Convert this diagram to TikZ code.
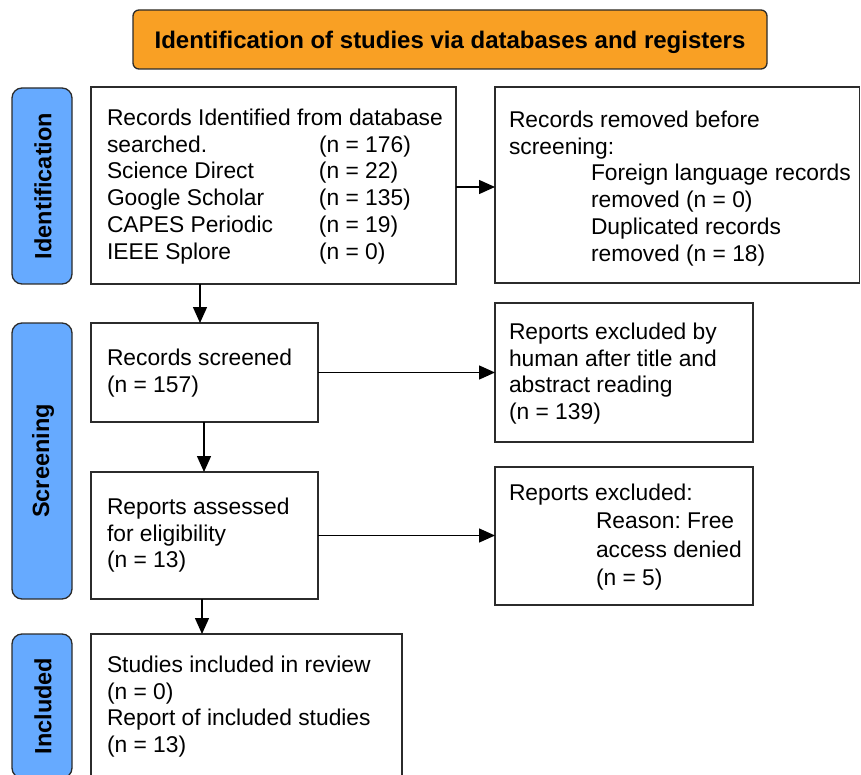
\documentclass[tikz,border=0pt]{standalone}
\usepackage{fontspec}
\setmainfont{Liberation Sans}
\usetikzlibrary{arrows.meta}
\definecolor{orangeT}{HTML}{F9A024}
\definecolor{blueL}{HTML}{66AAFF}
\definecolor{edge}{HTML}{2B2B2B}
\begin{document}
\frenchspacing
\begin{tikzpicture}[x=1pt,y=-1pt,
 box/.style={draw=edge,line width=1.3pt,fill=white,rectangle,anchor=north west,inner sep=0,outer sep=0},
 lab/.style={draw=edge,line width=1.3pt,fill=blueL,rounded corners=10pt,anchor=north west,inner sep=0,outer sep=0,minimum width=60pt},
 txt/.style={anchor=north west,inner sep=0,outer sep=0,align=left,font=\fontsize{22.8}{26.7}\selectfont},
 vtxt/.style={rotate=90,font=\bfseries\fontsize{23.5}{28}\selectfont,inner sep=0},
 arr/.style={line width=1.4pt,-{Triangle[length=16pt,width=14pt]}}]
\useasboundingbox (0,0) rectangle (861,775);
% title
\node[draw=edge,line width=1.3pt,fill=orangeT,rounded corners=6pt,minimum width=634pt,minimum height=59pt,inner sep=0,text depth=0pt,font=\bfseries\fontsize{24}{28}\selectfont] (title) at (450,39.5) {Identification of studies via databases and registers};
% phase labels
\node[lab,minimum height=196pt] (lid) at (12,88) {};
\node[vtxt] (lidt) at ([xshift=1pt]lid.center) {Identification};
\node[lab,minimum height=276pt] (lsc) at (12,323) {};
\node[vtxt] (lsct) at ([xshift=1pt]lsc.center) {Screening};
\node[lab,minimum height=144pt] (lin) at (12,634) {};
\node[vtxt] (lint) at ([xshift=1pt]lin.center) {Included};
% boxes
\node[box,minimum width=365pt,minimum height=197pt] (b1) at (91,87) {};
\node[box,minimum width=227pt,minimum height=99pt] (b2) at (91,323) {};
\node[box,minimum width=227pt,minimum height=127pt] (b3) at (91,472) {};
\node[box,minimum width=311pt,minimum height=144pt] (b4) at (91,634) {};
\node[box,minimum width=364.5pt,minimum height=196pt] (r1) at (495,87) {};
\node[box,minimum width=258pt,minimum height=139pt] (r2) at (495,303) {};
\node[box,minimum width=258pt,minimum height=138pt] (r3) at (495,467) {};
% texts
\node[txt] (t1) at (107,109) {Records Identified from database\\
\makebox[212pt][l]{searched.}(n = 176)\\
\makebox[212pt][l]{Science Direct}(n = 22)\\
\makebox[212pt][l]{Google Scholar}(n = 135)\\
\makebox[212pt][l]{CAPES Periodic}(n = 19)\\
\makebox[212pt][l]{IEEE Splore}(n = 0)};
\node[txt] (tr1) at (509,111) {Records removed before\\
screening:\\
\hspace*{82pt}Foreign language records\\
\hspace*{82pt}removed (n = 0)\\
\hspace*{82pt}Duplicated records\\
\hspace*{82pt}removed (n = 18)};
\node[txt] (t2) at (107,349) {Records screened\\ (n = 157)};
\node[txt] (t3) at (107,498) {Reports assessed\\ for eligibility\\ (n = 13)};
\node[txt] (t4) at (107,656) {Studies included in review\\ (n = 0)\\ Report of included studies\\ (n = 13)};
\node[txt] (tr2) at (509,323) {Reports excluded by\\ human after title and\\ abstract reading\\ (n = 139)};
\node[txt,font=\fontsize{22.8}{28.3}\selectfont] (tr3) at (509,484) {Reports excluded:\\
\hspace*{87pt}Reason: Free\\
\hspace*{87pt}access denied\\
\hspace*{87pt}(n = 5)};
% arrows
\draw[arr] ([xshift=109pt]b1.south west) -- ([xshift=109pt]b2.north west);
\draw[arr] ([xshift=113pt]b2.south west) -- ([xshift=113pt]b3.north west);
\draw[arr] ([xshift=111pt]b3.south west) -- ([xshift=111pt]b4.north west);
\draw[arr] ([yshift=-1.5pt]b1.east) -- ([yshift=-1.5pt]b1.east -| r1.west);
\draw[arr] (b2.east) -- (b2.east -| r2.west);
\draw[arr] (b3.east) -- (b3.east -| r3.west);
\end{tikzpicture}
\end{document}
